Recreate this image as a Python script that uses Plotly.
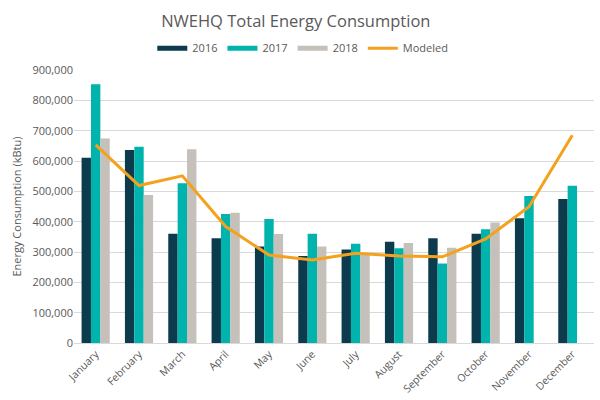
import plotly.graph_objects as go

months = ["January", "February", "March", "April", "May", "June", "July",
          "August", "September", "October", "November", "December"]
y2016 = [611000, 636000, 360000, 345000, 318000, 287000, 308000, 334000, 345000, 360000, 411000, 475000]
y2017 = [853000, 647000, 527000, 425000, 409000, 360000, 327000, 312000, 262000, 375000, 485000, 518000]
y2018 = [674000, 488000, 639000, 429000, 359000, 318000, 295000, 330000, 314000, 397000, None, None]
modeled = [653000, 519000, 551000, 384000, 290000, 274000, 296000, 287000, 284000, 343000, 449000, 685000]

c2016 = "#0b3b4c"
c2017 = "#00b3ad"
c2018 = "#c5c0b9"
cmod = "#f4a11d"
txt = "#595959"
font = "Open Sans"

fig = go.Figure()
for name, vals, col in [("2016", y2016, c2016), ("2017", y2017, c2017), ("2018", y2018, c2018)]:
    fig.add_trace(go.Bar(x=months, y=vals, name=name, marker_color=col,
                         marker_line_width=0, showlegend=False))
    fig.add_trace(go.Scatter(x=[None], y=[None], mode="lines", name=name,
                             line=dict(color=col, width=5)))
fig.add_trace(go.Scatter(x=months, y=modeled, name="Modeled", mode="lines",
                         line=dict(color=cmod, width=3)))

fig.update_layout(
    width=600, height=400,
    margin=dict(l=74, r=6, t=70, b=57),
    paper_bgcolor="white", plot_bgcolor="white",
    font=dict(family=font, color=txt, size=11),
    title=dict(text="NWEHQ Total Energy Consumption", x=0.493, xanchor="center",
               y=0.948, yanchor="middle", font=dict(size=16.5, color=txt, family=font)),
    barmode="group", bargap=0.35, bargroupgap=0,
    legend=dict(orientation="h", x=0.44, xanchor="center", y=1.08, yanchor="middle",
                font=dict(size=11, color=txt), itemwidth=30, traceorder="normal"),
    xaxis=dict(tickangle=-45, tickfont=dict(size=10.5, color=txt), showline=True,
               linecolor="#d9d9d9", linewidth=1, ticks=""),
    yaxis=dict(range=[0, 900000], dtick=100000, tickformat=",d", gridcolor="#d9d9d9",
               gridwidth=1, zeroline=False, tickfont=dict(size=11, color=txt),
               title=dict(text="Energy Consumption (kBtu)", font=dict(size=11, color=txt), standoff=8)),
)

fig.write_html("out.html")
